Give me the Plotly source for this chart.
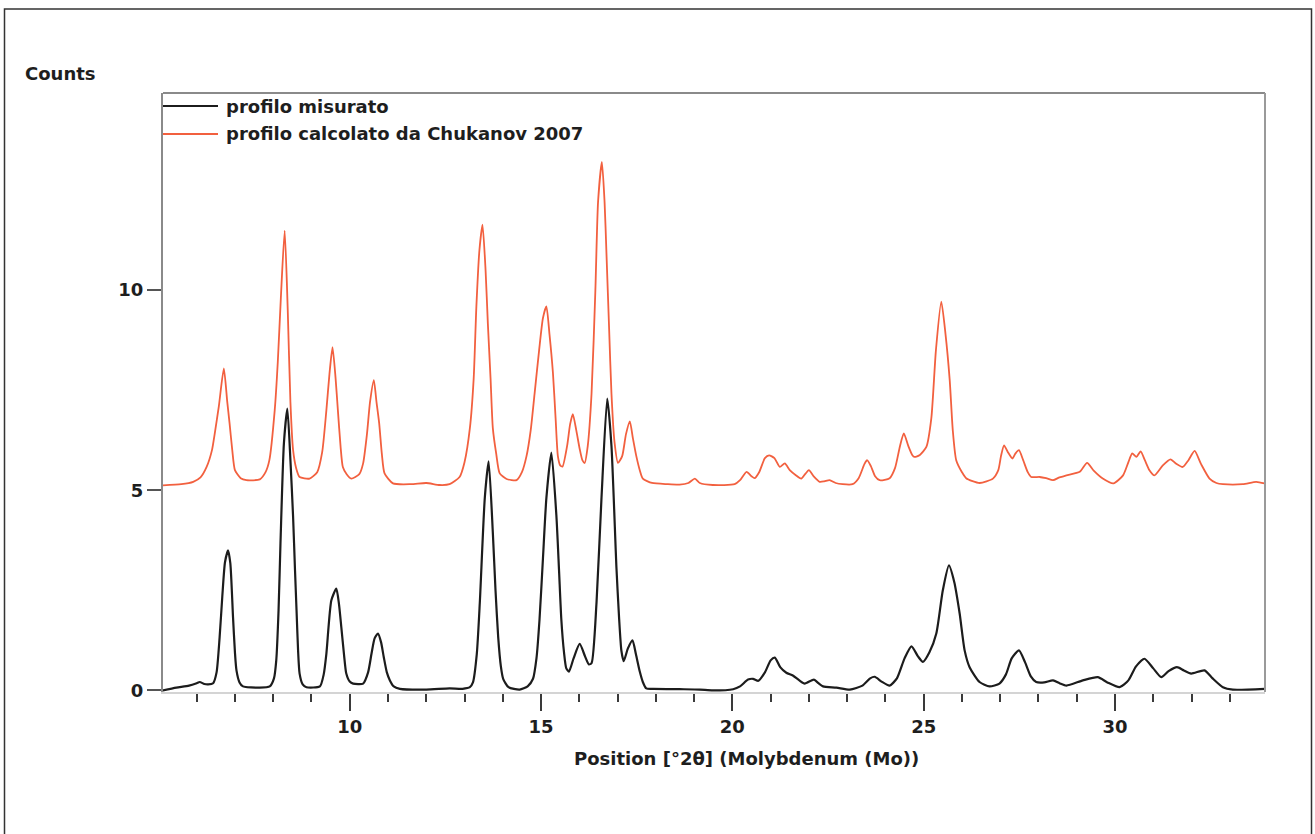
import plotly.graph_objects as go

# Diffraction profiles, 2θ in degrees (Mo Kα) vs counts
measured_x = [5.11, 5.47, 5.80, 6.00, 6.08, 6.20, 6.30, 6.43, 6.52, 6.60, 6.67, 6.74, 6.82, 6.88, 6.95, 7.00,
              7.04, 7.12, 7.21, 7.65, 7.91, 8.02, 8.08, 8.14, 8.19, 8.28, 8.37, 8.45, 8.52, 8.57, 8.61, 8.65,
              8.69, 8.77, 8.87, 9.22, 9.32, 9.39, 9.52, 9.65, 9.72, 9.78, 9.85, 9.91, 10.00, 10.09, 10.35,
              10.48, 10.57, 10.65, 10.74, 10.82, 10.89, 10.97, 11.05, 11.15, 11.31, 12.00, 12.61, 12.95,
              13.14, 13.22, 13.32, 13.40, 13.53, 13.63, 13.74, 13.81, 13.88, 13.95, 14.01, 14.15, 14.44,
              14.65, 14.79, 14.88, 14.96, 15.05, 15.14, 15.27, 15.40, 15.47, 15.53, 15.60, 15.66, 15.73,
              15.85, 16.01, 16.15, 16.25, 16.32, 16.45, 16.58, 16.73, 16.84, 16.97, 17.04, 17.10, 17.16,
              17.27, 17.39, 17.48, 17.58, 17.66, 17.75, 17.93, 18.62, 19.15, 19.49, 20.02, 20.20, 20.41,
              20.54, 20.68, 20.85, 21.00, 21.11, 21.25, 21.41, 21.58, 21.75, 21.89, 22.13, 22.25, 22.37,
              22.72, 23.07, 23.40, 23.60, 23.72, 23.90, 24.11, 24.30, 24.50, 24.68, 24.85, 24.98, 25.15,
              25.33, 25.50, 25.66, 25.80, 25.94, 26.07, 26.20, 26.46, 26.72, 26.98, 27.15, 27.30, 27.49,
              27.65, 27.80, 27.94, 28.15, 28.38, 28.55, 28.73, 29.16, 29.55, 29.80, 30.12, 30.35, 30.55,
              30.77, 31.00, 31.21, 31.40, 31.62, 31.80, 31.99, 32.34, 32.55, 32.82, 33.08, 33.91]
measured_y = [0.00, 0.07, 0.12, 0.18, 0.21, 0.16, 0.15, 0.18, 0.45, 1.33, 2.35, 3.20, 3.50, 3.17, 1.83, 0.95,
              0.50, 0.20, 0.10, 0.07, 0.10, 0.30, 0.75, 2.00, 3.67, 6.17, 7.04, 5.75, 4.33, 3.00, 2.00, 1.00,
              0.42, 0.15, 0.08, 0.10, 0.40, 0.92, 2.25, 2.54, 2.15, 1.58, 0.90, 0.42, 0.22, 0.17, 0.17,
              0.45, 0.92, 1.30, 1.42, 1.20, 0.83, 0.45, 0.25, 0.10, 0.04, 0.02, 0.05, 0.04,
              0.08, 0.20, 0.90, 2.20, 4.81, 5.72, 3.94, 2.50, 1.33, 0.60, 0.29, 0.08, 0.02,
              0.10, 0.29, 0.80, 1.77, 3.30, 4.81, 5.94, 4.38, 3.00, 1.77, 0.95, 0.55, 0.47,
              0.80, 1.16, 0.85, 0.65, 0.68, 2.20, 4.81, 7.29, 6.11, 3.07, 1.80, 0.99, 0.73,
              1.05, 1.25, 0.90, 0.47, 0.21, 0.05, 0.04, 0.03, 0.02, 0.00, 0.03, 0.10, 0.27,
              0.29, 0.24, 0.45, 0.75, 0.82, 0.58, 0.44, 0.37, 0.25, 0.17, 0.27, 0.18, 0.10,
              0.07, 0.02, 0.12, 0.30, 0.34, 0.22, 0.12, 0.30, 0.80, 1.10, 0.85, 0.71, 0.95,
              1.42, 2.50, 3.12, 2.70, 1.92, 1.00, 0.58, 0.21, 0.10, 0.17, 0.40, 0.80, 1.00,
              0.70, 0.35, 0.21, 0.20, 0.25, 0.18, 0.12, 0.25, 0.33, 0.20, 0.08, 0.25, 0.60,
              0.79, 0.55, 0.33, 0.48, 0.58, 0.50, 0.42, 0.50, 0.30, 0.08, 0.02, 0.04]

calculated_x = [5.11, 5.60, 5.91, 6.10, 6.26, 6.40, 6.47, 6.58, 6.71, 6.80, 6.86, 6.93, 7.00, 7.15, 7.30, 7.65,
                7.80, 7.90, 8.04, 8.12, 8.20, 8.30, 8.38, 8.45, 8.52, 8.60, 8.69, 8.95, 9.15, 9.28, 9.39,
                9.47, 9.55, 9.63, 9.69, 9.76, 9.82, 9.92, 10.04, 10.25, 10.35, 10.45, 10.53, 10.63, 10.70,
                10.77, 10.84, 10.91, 11.13, 11.60, 12.00, 12.35, 12.61, 12.87, 13.00, 13.14, 13.24, 13.31,
                13.39, 13.47, 13.55, 13.61, 13.68, 13.74, 13.83, 13.92, 14.10, 14.36, 14.50, 14.62, 14.73,
                14.83, 14.95, 15.05, 15.14, 15.22, 15.31, 15.38, 15.44, 15.50, 15.56, 15.68, 15.76, 15.83,
                15.92, 16.01, 16.08, 16.14, 16.22, 16.32, 16.42, 16.49, 16.59, 16.66, 16.71, 16.78, 16.84,
                16.92, 17.01, 17.12, 17.22, 17.32, 17.40, 17.49, 17.58, 17.66, 17.90, 18.30, 18.62, 18.85,
                19.02, 19.15, 19.49, 20.06, 20.20, 20.37, 20.50, 20.58, 20.70, 20.85, 20.96, 21.10, 21.24,
                21.37, 21.50, 21.65, 21.80, 21.90, 22.00, 22.12, 22.28, 22.40, 22.54, 22.70, 22.88, 23.14,
                23.30, 23.45, 23.52, 23.62, 23.73, 23.85, 24.11, 24.25, 24.38, 24.48, 24.60, 24.70, 24.76,
                24.90, 25.07, 25.20, 25.32, 25.46, 25.57, 25.68, 25.76, 25.85, 26.00, 26.11, 26.46, 26.81,
                26.95, 27.02, 27.10, 27.20, 27.32, 27.40, 27.49, 27.60, 27.72, 27.81, 28.03, 28.20, 28.38,
                28.55, 28.73, 29.08, 29.27, 29.45, 29.68, 29.96, 30.21, 30.35, 30.45, 30.56, 30.67, 30.78,
                30.90, 31.03, 31.25, 31.45, 31.60, 31.77, 31.92, 32.08, 32.25, 32.47, 32.65, 32.82, 33.34,
                33.69, 33.91]
calculated_y = [5.12, 5.15, 5.21, 5.32, 5.58, 6.00, 6.40, 7.10, 8.04, 7.20, 6.67, 6.00, 5.50, 5.30, 5.25, 5.27,
                5.45, 5.75, 7.00, 8.20, 9.80, 11.48, 9.50, 7.20, 6.00, 5.55, 5.33, 5.29, 5.45, 5.95, 7.00,
                7.90, 8.57, 7.80, 7.00, 6.10, 5.58, 5.40, 5.29, 5.40, 5.67, 6.40, 7.20, 7.75, 7.20,
                6.67, 5.90, 5.42, 5.17, 5.15, 5.18, 5.13, 5.15, 5.33, 5.70, 6.55, 7.80, 9.59,
                11.00, 11.63, 10.50, 9.16, 7.80, 6.55, 5.90, 5.42, 5.28, 5.25, 5.45, 5.85, 6.50,
                7.40, 8.50, 9.30, 9.59, 8.90, 7.94, 6.80, 5.85, 5.62, 5.59, 6.10, 6.65, 6.90,
                6.50, 6.03, 5.75, 5.68, 6.10, 7.42, 10.00, 12.20, 13.20, 12.20, 10.90, 9.00, 7.42,
                6.20, 5.68, 5.85, 6.40, 6.72, 6.30, 5.85, 5.50, 5.29, 5.18, 5.15, 5.14, 5.18,
                5.29, 5.18, 5.13, 5.15, 5.25, 5.46, 5.35, 5.30, 5.45, 5.80, 5.87, 5.80, 5.58,
                5.67, 5.50, 5.38, 5.29, 5.40, 5.50, 5.35, 5.21, 5.22, 5.25, 5.18, 5.15, 5.15,
                5.30, 5.65, 5.75, 5.60, 5.35, 5.25, 5.30, 5.55, 6.10, 6.42, 6.10, 5.88, 5.83,
                5.88, 6.08, 6.80, 8.50, 9.71, 8.90, 7.75, 6.50, 5.75, 5.45, 5.30, 5.18, 5.29,
                5.50, 5.85, 6.12, 5.95, 5.79, 5.92, 6.00, 5.75, 5.45, 5.33, 5.33, 5.30, 5.25,
                5.32, 5.37, 5.46, 5.68, 5.48, 5.29, 5.17, 5.37, 5.70, 5.92, 5.83, 5.97, 5.75,
                5.50, 5.37, 5.62, 5.77, 5.66, 5.58, 5.75, 5.98, 5.65, 5.29, 5.18, 5.15, 5.15,
                5.21, 5.17]

series_names = ["profilo misurato", "profilo calcolato da Chukanov 2007"]
series_colors = ["#1c1c1c", "#f2603f"]

x_major_ticks = [10, 15, 20, 25, 30]
y_ticks = [0, 5, 10]
x_title = "Position [°2θ] (Molybdenum (Mo))"
y_title = "Counts"

W, H = 1315, 834
L, R, T, B = 163, 50, 93, 142
pw, ph = W - L - R, H - T - B

def px(xp):
    return (xp - L) / pw

def py(yp):
    return (H - B - yp) / ph

FONT = "DejaVu Sans"
TXT = "#1e1e1e"
FS = 18

def tfont(size=FS):
    return dict(family=FONT, size=size, color=TXT, weight=600)

fig = go.Figure()
fig.add_trace(go.Scatter(x=measured_x, y=measured_y, mode="lines", name=series_names[0],
                         line=dict(color=series_colors[0], width=2.2, shape="spline", smoothing=0.6),
                         showlegend=False))
fig.add_trace(go.Scatter(x=calculated_x, y=calculated_y, mode="lines", name=series_names[1],
                         line=dict(color=series_colors[1], width=1.8, shape="spline", smoothing=0.6),
                         showlegend=False))

shapes = [
    # outer frame
    dict(type="rect", xref="paper", yref="paper", x0=px(4.5), x1=px(1311.5), y0=py(850), y1=py(9),
         line=dict(color="#333333", width=1.5), fillcolor="rgba(0,0,0,0)", layer="below"),
    # top and right borders of the plot box
    dict(type="line", xref="paper", yref="paper", x0=0, x1=1, y0=1, y1=1,
         line=dict(color="#8a8a8a", width=2)),
    dict(type="line", xref="paper", yref="paper", x0=1, x1=1, y0=0, y1=1,
         line=dict(color="#9a9a9a", width=2)),
]
annotations = []
# legend entries drawn inside the plot box
for i, (name, col) in enumerate(zip(series_names, series_colors)):
    yy = py(106 + 28 * i)
    shapes.append(dict(type="line", xref="paper", yref="paper", x0=0, x1=px(218), y0=yy, y1=yy,
                       line=dict(color=col, width=2)))
    annotations.append(dict(xref="paper", yref="paper", x=px(224), y=yy, text=name, showarrow=False,
                            xanchor="left", yanchor="middle", font=tfont()))
annotations.append(dict(xref="paper", yref="paper", x=px(746.5), y=py(758), text=x_title, showarrow=False,
                        xanchor="center", yanchor="middle", font=tfont()))
annotations.append(dict(xref="paper", yref="paper", x=px(23), y=py(74), text=y_title, showarrow=False,
                        xanchor="left", yanchor="middle", font=tfont()))

fig.update_layout(
    width=W, height=H, margin=dict(l=L, r=R, t=T, b=B),
    paper_bgcolor="white", plot_bgcolor="white",
    shapes=shapes, annotations=annotations,
    xaxis=dict(range=[5.12, 33.92], tickvals=x_major_ticks, ticks="outside", ticklen=17, tickwidth=2,
               tickcolor="#3a3a3a", showgrid=False, zeroline=False, showline=True, linecolor="#d4d4d4",
               linewidth=2, tickfont=tfont(),
               minor=dict(dtick=1, tick0=0, ticks="outside", ticklen=8, tickwidth=2, tickcolor="#3a3a3a",
                          showgrid=False)),
    yaxis=dict(range=[-0.04, 14.92], tickvals=y_ticks, ticks="outside", ticklen=14, tickwidth=2,
               tickcolor="#555555", showgrid=False, zeroline=False, showline=True, linecolor="#8a8a8a",
               linewidth=2, tickfont=tfont()),
)

fig.write_html("out.html")
